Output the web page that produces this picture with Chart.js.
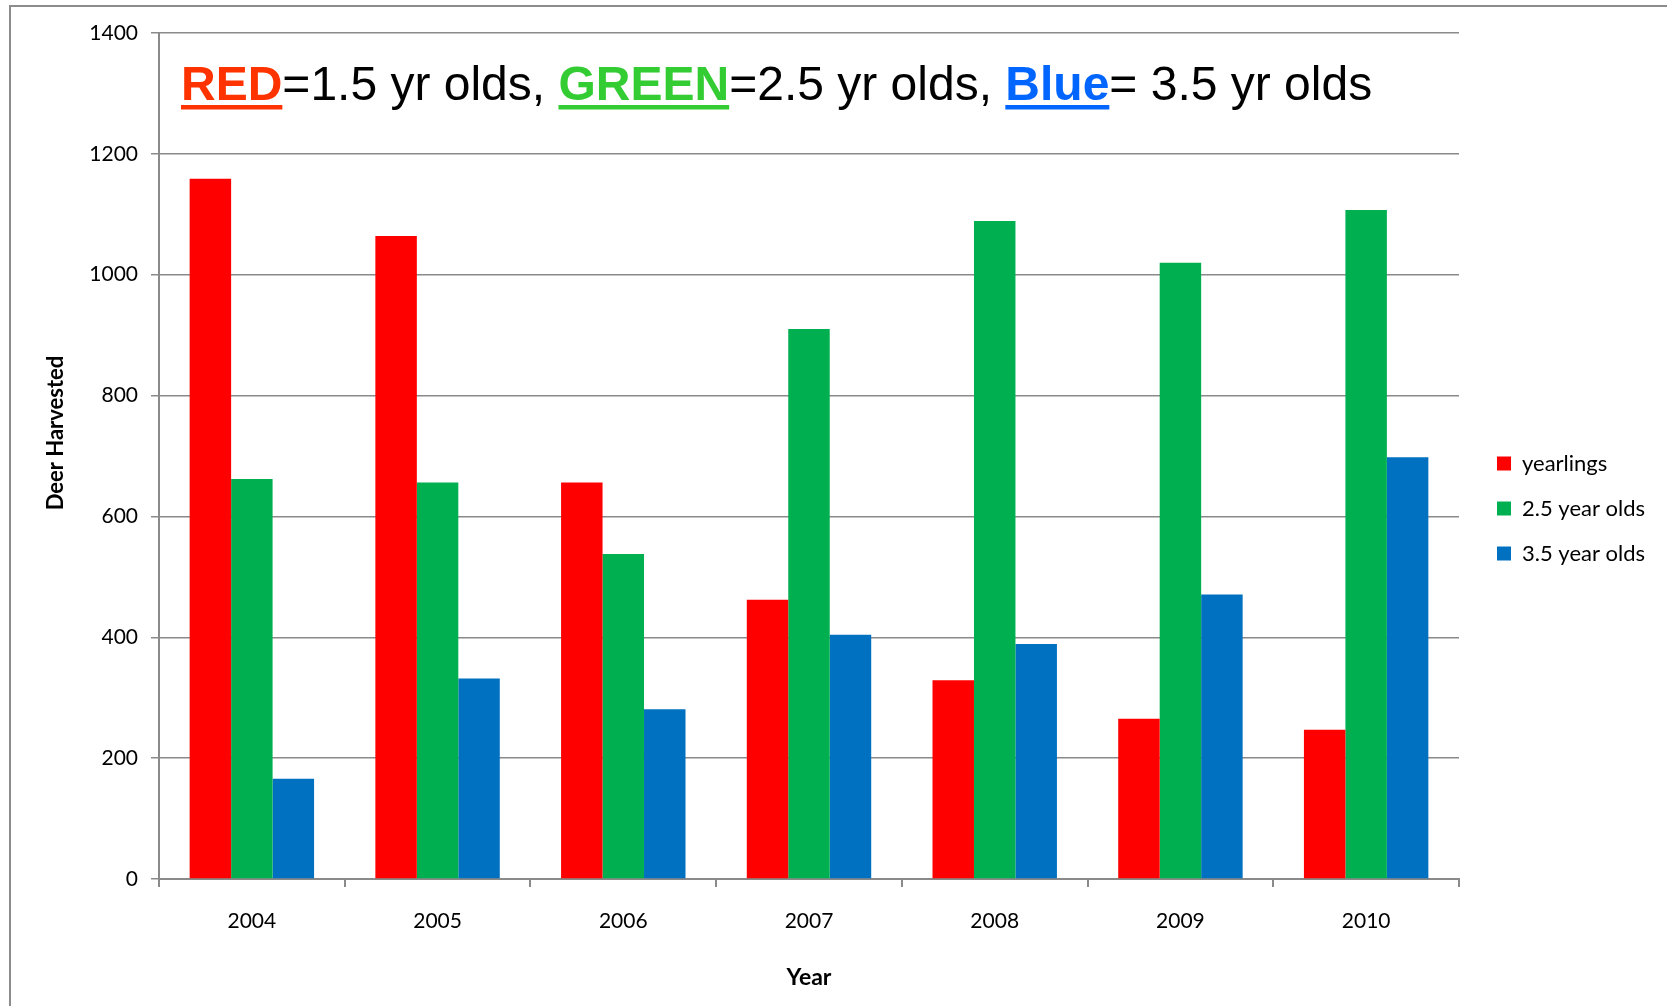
<!DOCTYPE html>
<html>
<head>
<meta charset="utf-8">
<script src="https://cdn.jsdelivr.net/npm/chart.js@4.4.1/dist/chart.umd.min.js"></script>
<style>
  html, body { margin: 0; padding: 0; background: #fff; overflow: hidden; }
  canvas { display: block; }
</style>
</head>
<body>
<canvas id="deer" width="1667" height="1006"></canvas>
<script>
// data
const years = ['2004', '2005', '2006', '2007', '2008', '2009', '2010'];
const yearlings = [1159, 1064, 656, 462, 329, 265, 247];
const twoFive = [662, 656, 538, 910, 1089, 1020, 1107];
const threeFive = [166, 332, 281, 404, 389, 471, 698];
const seriesNames = ['yearlings', '2.5 year olds', '3.5 year olds'];
const yTicks = [0, 200, 400, 600, 800, 1000, 1200, 1400];

const headline = [
  { text: 'RED', color: '#FF3300', bold: true },
  { text: '=1.5 yr olds, ', color: '#000' },
  { text: 'GREEN', color: '#33CC33', bold: true },
  { text: '=2.5 yr olds, ', color: '#000' },
  { text: 'Blue', color: '#0066FF', bold: true },
  { text: '= 3.5 yr olds', color: '#000' }
];

const FONT = 'Lato, "Open Sans", sans-serif';
const axisGray = '#8a8a8a';

// frame, big title and the rotated y title
const decor = {
  id: 'decor',
  beforeDraw(chart) {
    const ctx = chart.ctx;
    ctx.save();
    ctx.strokeStyle = '#8c8c8c';
    ctx.lineWidth = 2;
    ctx.strokeRect(10, 6, 3000, 3000);
    ctx.restore();
  },
  afterDraw(chart) {
    const ctx = chart.ctx;
    ctx.save();
    let x = 181;
    const base = 100;
    ctx.textBaseline = 'alphabetic';
    headline.forEach(part => {
      ctx.font = (part.bold ? 'bold ' : '') + '48px "Liberation Sans", Arial, sans-serif';
      ctx.fillStyle = part.color;
      ctx.fillText(part.text, x, base);
      const w = ctx.measureText(part.text).width;
      if (part.bold) ctx.fillRect(x, base + 5, w, 4.5);
      x += w;
    });

    ctx.translate(56, 433);
    ctx.rotate(-Math.PI / 2);
    ctx.font = 'bold 22px ' + FONT;
    ctx.fillStyle = '#000';
    ctx.textAlign = 'center';
    ctx.textBaseline = 'middle';
    ctx.fillText('Deer Harvested', 0, 0);
    ctx.restore();
  }
};

// fixed legend column on the right
const legendSpot = {
  id: 'legendSpot',
  beforeLayout(chart) {
    const lg = chart.legend;
    if (lg && !lg._wrapped) {
      const fit = lg.fit.bind(lg);
      lg.fit = function() { fit(); this.width = 208; };
      lg._wrapped = true;
    }
  },
  afterLayout(chart) {
    const lg = chart.legend;
    lg.left += 15;
    lg.right += 15;
    lg.top -= 11;
    lg.bottom -= 11;
  }
};

new Chart(document.getElementById('deer'), {
  type: 'bar',
  data: {
    labels: years,
    datasets: [
      { label: seriesNames[0], data: yearlings, backgroundColor: '#FF0000' },
      { label: seriesNames[1], data: twoFive, backgroundColor: '#00B050' },
      { label: seriesNames[2], data: threeFive, backgroundColor: '#0070C0' }
    ]
  },
  options: {
    responsive: false,
    animation: false,
    devicePixelRatio: 1,
    categoryPercentage: 0.67,
    barPercentage: 1.0,
    layout: { padding: { top: 33, left: 0, right: 0, bottom: 0 } },
    plugins: {
      tooltip: { enabled: false },
      legend: {
        position: 'right',
        labels: {
          boxWidth: 14,
          boxHeight: 14,
          padding: 23,
          color: '#000',
          font: { family: FONT, size: 22 }
        }
      }
    },
    scales: {
      x: {
        grid: { drawOnChartArea: false, tickLength: 8, color: axisGray, lineWidth: 2 },
        border: { color: axisGray, width: 2 },
        ticks: { color: '#000', font: { family: FONT, size: 21 }, padding: 22, maxRotation: 0 },
        title: {
          display: true, text: 'Year', color: '#000',
          font: { family: FONT, size: 23, weight: 'bold' },
          padding: { top: 0, bottom: 15 }
        },
        afterFit(scale) { scale.height = 127; }
      },
      y: {
        min: 0,
        max: 1400,
        afterBuildTicks(scale) { scale.ticks = yTicks.map(v => ({ value: v })); },
        grid: { color: axisGray, lineWidth: 1.5, tickLength: 8 },
        border: { color: axisGray, width: 2 },
        ticks: {
          color: '#000', font: { family: FONT, size: 21 }, padding: 13,
          callback: v => String(v)
        },
        afterFit(scale) { scale.width = 159; }
      }
    }
  },
  plugins: [decor, legendSpot]
});
</script>
</body>
</html>
